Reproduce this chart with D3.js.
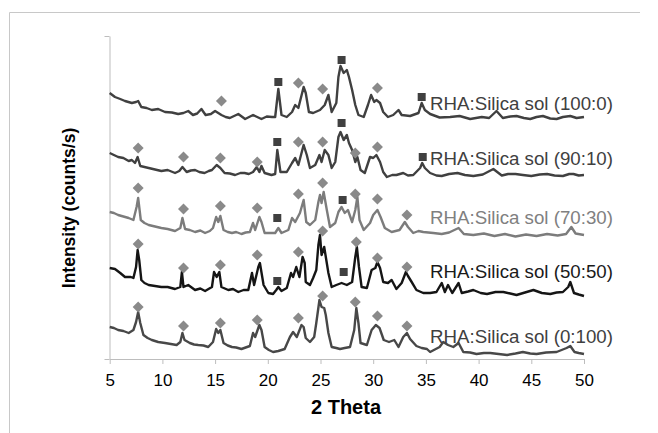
<!DOCTYPE html>
<html>
<head>
<meta charset="utf-8">
<script src="https://cdn.jsdelivr.net/npm/d3@7"></script>
<style>
  body { margin: 0; background: #fff; }
  svg { display: block; font-family: "Liberation Sans", Arial, sans-serif; }
</style>
</head>
<body>
<div id="chart"></div>
<script>
// x ticks (2 theta) and stacked intensity patterns
var xTicks = [5, 10, 15, 20, 25, 30, 35, 40, 45, 50];
var seriesNames = ["RHA:Silica sol (100:0)", "RHA:Silica sol (90:10)", "RHA:Silica sol (70:30)",
                   "RHA:Silica sol (50:50)", "RHA:Silica sol (0:100)"];

var s100_0 = [[5,2660],[5.5,2620],[6,2600],[6.45,2580],[7.1,2560],[7.5,2570],[7.7,2580],[8,2520],[8.5,2510],
  [9,2490],[9.6,2500],[10.25,2470],[10.9,2465],[11.5,2450],[12,2460],[12.45,2480],[12.9,2440],[13.3,2455],
  [13.7,2500],[14.1,2440],[14.6,2450],[15,2480],[15.6,2440],[16,2420],[16.4,2410],[17.2,2450],[17.85,2400],
  [18.6,2440],[19.4,2400],[19.9,2425],[20.4,2420],[20.7,2420],[21,2700],[21.3,2440],[21.8,2420],[22.3,2470],
  [22.6,2540],[22.9,2510],[23.4,2720],[23.6,2660],[23.9,2470],[24.3,2460],[24.95,2490],[25.4,2540],[25.75,2640],
  [26.06,2470],[26.5,2560],[26.7,2820],[26.9,2930],[27.2,2860],[27.5,2890],[27.7,2820],[28,2690],[28.3,2540],
  [28.6,2440],[29.1,2420],[29.5,2540],[29.8,2640],[30.1,2570],[30.3,2590],[30.65,2560],[30.95,2470],[31.4,2420],
  [31.9,2440],[32.4,2490],[32.7,2440],[33.5,2430],[34.3,2460],[34.6,2560],[34.9,2490],[35.4,2450],[36.3,2415],
  [37.3,2420],[38.2,2430],[39.2,2400],[40.3,2420],[41,2410],[41.7,2480],[42.3,2410],[43,2425],[43.6,2430],
  [44.3,2410],[44.9,2400],[45.5,2420],[46.1,2430],[46.8,2405],[47.4,2400],[48,2420],[48.7,2430],[49.3,2410],[50,2420]];

var s90_10 = [[5,2060],[5.4,2040],[5.8,2020],[6.3,2010],[6.8,1980],[7.1,1990],[7.4,1960],[7.65,2020],[7.9,1930],
  [8.3,1920],[8.7,1910],[9.3,1895],[9.9,1880],[10.5,1890],[11.2,1860],[11.6,1880],[11.9,1920],[12.3,1870],
  [12.7,1885],[13.1,1890],[13.5,1870],[14,1860],[14.4,1880],[14.7,1890],[15.15,1940],[15.5,1910],[15.9,1860],
  [16.4,1855],[16.9,1840],[17.4,1860],[17.8,1860],[18.2,1850],[18.6,1870],[18.95,1920],[19.2,1870],[19.4,1930],
  [19.7,1860],[20.35,1840],[20.7,1850],[20.9,2090],[21.2,1870],[21.8,1870],[22.3,1960],[22.6,2010],[22.9,1940],
  [23.4,2140],[23.7,2040],[24,1910],[24.5,1940],[24.9,2040],[25.1,1970],[25.4,2090],[25.75,2040],[26.06,1910],
  [26.4,1970],[26.7,2220],[26.9,2270],[27.2,2190],[27.5,2240],[27.7,2160],[28,2090],[28.3,1970],[28.5,2020],
  [28.8,1890],[29.2,1860],[29.7,2020],[30,2010],[30.3,2040],[30.65,1970],[30.95,1870],[31.3,1820],[31.8,1840],
  [32.2,1840],[32.85,1860],[33.3,1835],[33.8,1840],[34.45,1910],[34.65,1960],[34.9,1910],[35.4,1860],[36,1835],
  [36.5,1830],[37.2,1850],[38,1860],[38.7,1840],[39.5,1830],[40.4,1845],[41.4,1900],[42.2,1835],[42.8,1850],
  [43.5,1850],[44.2,1840],[45,1830],[45.8,1845],[46.5,1850],[47.2,1835],[48,1830],[48.6,1850],[49,1850],
  [49.5,1835],[50,1840]];

var s70_30 = [[5,1470],[5.4,1460],[5.8,1440],[6.3,1425],[6.8,1410],[7.25,1390],[7.55,1520],[7.7,1610],[7.95,1390],
  [8.3,1360],[8.7,1340],[9.3,1325],[9.9,1310],[10.5,1300],[11.2,1280],[11.7,1310],[11.9,1410],[12.15,1300],
  [12.6,1290],[13.1,1270],[13.6,1285],[14.05,1260],[14.5,1280],[14.8,1310],[15.1,1420],[15.3,1370],[15.5,1430],
  [15.8,1290],[16.2,1270],[16.6,1260],[17,1270],[17.5,1250],[17.9,1265],[18.3,1270],[18.6,1360],[18.8,1290],
  [19.2,1420],[19.4,1370],[19.7,1260],[20.35,1260],[20.7,1260],[21,1310],[21.3,1260],[21.95,1290],[22.3,1410],
  [22.6,1370],[23.05,1460],[23.4,1590],[23.65,1370],[24,1340],[24.5,1390],[24.8,1570],[24.95,1640],[25.1,1560],
  [25.3,1670],[25.6,1490],[25.9,1320],[26.4,1360],[26.7,1470],[27,1520],[27.3,1460],[27.6,1490],[28,1370],
  [28.3,1490],[28.5,1620],[28.7,1390],[29.1,1290],[29.7,1360],[30,1440],[30.4,1490],[30.7,1420],[31.1,1310],
  [31.75,1270],[32.5,1290],[33,1370],[33.3,1320],[33.8,1260],[34.3,1280],[34.75,1270],[35.7,1260],[36.5,1250],
  [37.2,1265],[38.1,1310],[38.6,1250],[39.5,1240],[40.5,1255],[41.5,1230],[42.5,1250],[43.5,1225],[44.5,1245],
  [45.5,1230],[46.5,1250],[47.5,1235],[48.3,1250],[48.8,1320],[49.2,1255],[50,1240]];

var s50_50 = [[5,910],[5.5,900],[6,860],[6.45,820],[7,820],[7.25,810],[7.5,920],[7.65,1090],[7.8,990],[8,790],
  [8.3,760],[8.7,740],[9.3,730],[9.9,720],[10.5,720],[11.2,700],[11.7,720],[11.85,870],[12,720],[12.45,740],
  [13.1,690],[13.6,705],[14.05,680],[14.7,720],[14.9,870],[15.15,820],[15.4,870],[15.6,720],[16.25,690],
  [16.7,700],[17.2,670],[17.7,690],[18.15,690],[18.5,860],[18.7,740],[19.1,920],[19.25,960],[19.6,740],
  [20.05,660],[20.5,650],[20.8,690],[21,720],[21.3,680],[21.8,710],[22.2,860],[22.4,820],[22.7,920],[23,820],
  [23.3,1020],[23.5,960],[23.6,770],[24,740],[24.3,810],[24.6,890],[24.8,1140],[24.95,1240],[25.1,1040],
  [25.35,1120],[25.55,990],[25.75,860],[26.06,720],[26.5,740],[27,760],[27.5,740],[28,770],[28.3,1020],
  [28.45,1120],[28.65,920],[28.9,720],[29.4,710],[29.85,890],[30.2,910],[30.4,970],[30.65,910],[30.95,770],
  [31.4,760],[31.75,790],[32.2,700],[32.7,760],[33.1,870],[33.3,830],[33.65,770],[34.1,690],[34.75,660],
  [35.4,660],[36,670],[36.5,760],[36.8,670],[37.1,740],[37.5,660],[38.1,760],[38.4,660],[39,675],[39.5,690],
  [40.2,660],[40.8,650],[41.6,670],[42.35,670],[43,655],[43.6,640],[44.4,665],[45.2,690],[46,660],[46.8,650],
  [47.4,665],[48,670],[48.5,720],[48.7,770],[49.05,660],[49.5,645],[50,630]];

var s0_100 = [[5,320],[5.4,310],[5.8,290],[6.3,280],[6.8,260],[7.25,290],[7.5,370],[7.7,470],[7.9,360],[8.2,240],
  [8.6,210],[9,190],[9.6,170],[10.25,160],[10.8,150],[11.35,140],[11.7,170],[11.9,260],[12.1,190],[12.6,160],
  [13,145],[13.4,140],[13.9,135],[14.35,120],[14.8,170],[15.1,300],[15.3,260],[15.5,290],[15.8,160],[16.2,135],
  [16.6,120],[17,115],[17.5,100],[17.9,115],[18.3,130],[18.6,260],[18.8,220],[19.2,340],[19.4,290],[19.7,120],
  [20.1,90],[20.5,70],[21,80],[21.6,100],[22.1,220],[22.4,270],[22.75,220],[23.2,340],[23.4,320],[23.6,210],
  [24,170],[24.4,220],[24.6,360],[24.9,590],[25.1,520],[25.35,510],[25.5,440],[25.75,260],[26.06,120],[26.5,110],
  [26.85,100],[27.3,110],[27.8,120],[28.2,290],[28.4,510],[28.6,360],[28.8,160],[29.4,140],[29.85,290],
  [30.25,340],[30.6,310],[31,190],[31.5,170],[32,190],[32.4,120],[32.85,220],[33.2,260],[33.5,200],[34.1,130],
  [34.6,110],[35.1,100],[35.4,70],[36.3,120],[36.65,170],[37.1,140],[37.6,120],[38.1,160],[38.55,70],[39.2,65],
  [39.8,50],[40.5,60],[41.1,60],[41.9,50],[42.7,40],[43.5,55],[44.2,70],[44.9,55],[45.5,50],[46.4,65],[47.4,70],
  [48.35,110],[48.7,130],[49.1,70],[49.5,60],[50,50]];

// peak markers: [2theta, intensity, "d" = diamond / "s" = square]
var m100_0 = [[15.6,2580,"d"],[21,2770,"s"],[22.9,2760,"d"],[25.2,2700,"d"],[27,2990,"s"],[30.4,2710,"d"],[34.6,2620,"s"]];
var m90_10 = [[7.7,2110,"d"],[12,2020,"d"],[15.5,2010,"d"],[19,1970,"d"],[20.9,2170,"s"],[22.9,2170,"d"],
  [25.2,2170,"d"],[27,2360,"s"],[28.3,2060,"d"],[30.4,2120,"d"],[34.7,2020,"s"]];
var m70_30 = [[7.7,1710,"d"],[12,1500,"d"],[15.5,1530,"d"],[19,1510,"d"],[20.9,1410,"s"],[22.9,1650,"d"],
  [25.2,1760,"d"],[27.1,1590,"s"],[28.3,1650,"d"],[30.4,1600,"d"],[33.2,1440,"d"]];
var m50_50 = [[7.7,1150,"d"],[12,910,"d"],[15.5,940,"d"],[19,1040,"d"],[20.9,780,"s"],[22.9,1070,"d"],
  [25.2,1280,"d"],[27.2,870,"s"],[28.4,1170,"d"],[30.4,1010,"d"],[33.2,920,"d"]];
var m0_100 = [[7.7,520,"d"],[12,330,"d"],[15.5,360,"d"],[19,390,"d"],[22.9,410,"d"],[25.2,630,"d"],
  [28.3,570,"d"],[30.4,430,"d"],[33.2,330,"d"]];

var seriesData = [s100_0, s90_10, s70_30, s50_50, s0_100];
var markerData = [m100_0, m90_10, m70_30, m50_50, m0_100];
var labelLevels = [2490, 1940, 1350, 810, 160];

var lineColors = ["#404040", "#404040", "#7c7c7c", "#151515", "#484848"];
var labelColors = ["#404040", "#404040", "#808080", "#1a1a1a", "#404040"];

var width = 658, height = 433;
var x = d3.scaleLinear().domain([5, 50]).range([109.7, 584]);
var y = d3.scaleLinear().domain([0, 3230]).range([359, 36]);

var svg = d3.select("#chart").append("svg")
    .attr("width", width)
    .attr("height", height);

svg.append("rect").attr("width", width).attr("height", height).attr("fill", "#fff");

// outer frame (top and left edges only)
svg.append("path")
    .attr("d", "M9.5,433V12.5H640")
    .attr("fill", "none")
    .attr("stroke", "#c8c8c8");

// axes
var xAxis = svg.append("g")
    .attr("transform", "translate(0,359)")
    .call(d3.axisBottom(x).tickValues(xTicks).tickSize(5).tickPadding(10).tickSizeOuter(0));
xAxis.select(".domain").attr("stroke", "#bdbdbd");
xAxis.selectAll(".tick line").attr("stroke", "#bdbdbd");
xAxis.selectAll(".tick text")
    .attr("font-family", "Liberation Sans, Arial, sans-serif")
    .attr("font-size", 17)
    .attr("fill", "#000");

var yAxis = svg.append("g")
    .attr("transform", "translate(109.5,0)")
    .call(d3.axisLeft(y).tickValues([0, 3230]).tickSize(5).tickFormat("").tickSizeOuter(0));
yAxis.select(".domain").attr("stroke", "#bdbdbd");
yAxis.selectAll(".tick line").attr("stroke", "#bdbdbd");

// axis titles
svg.append("text")
    .attr("x", 346).attr("y", 414)
    .attr("text-anchor", "middle")
    .attr("font-weight", "bold")
    .attr("font-size", 20)
    .text("2 Theta");

svg.append("text")
    .attr("transform", "translate(75,208) rotate(-90)")
    .attr("text-anchor", "middle")
    .attr("font-weight", "bold")
    .attr("font-size", 17.5)
    .text("Intensity (counts/s)");

// patterns
var line = d3.line()
    .x(d => x(d[0]))
    .y(d => y(d[1]));

svg.append("g")
    .selectAll("path")
    .data(seriesData)
    .join("path")
    .attr("d", line)
    .attr("fill", "none")
    .attr("stroke", (d, i) => lineColors[i])
    .attr("stroke-width", 2.4)
    .attr("stroke-linejoin", "round");

// peak markers
var allMarkers = markerData.flat();
svg.append("g")
    .selectAll("path")
    .data(allMarkers)
    .join("path")
    .attr("transform", d => "translate(" + x(d[0]) + "," + y(d[1]) + ")")
    .attr("d", d => d[2] === "s" ? "M-4,-4H4V4H-4Z" : "M0,-5.5L5.5,0L0,5.5L-5.5,0Z")
    .attr("fill", d => d[2] === "s" ? "#404040" : "#8a8a8a");

// series labels
svg.append("g")
    .selectAll("text")
    .data(seriesNames)
    .join("text")
    .attr("x", x(35.4))
    .attr("y", (d, i) => y(labelLevels[i]))
    .attr("font-size", 18.7)
    .attr("fill", (d, i) => labelColors[i])
    .text(d => d);
</script>
</body>
</html>
